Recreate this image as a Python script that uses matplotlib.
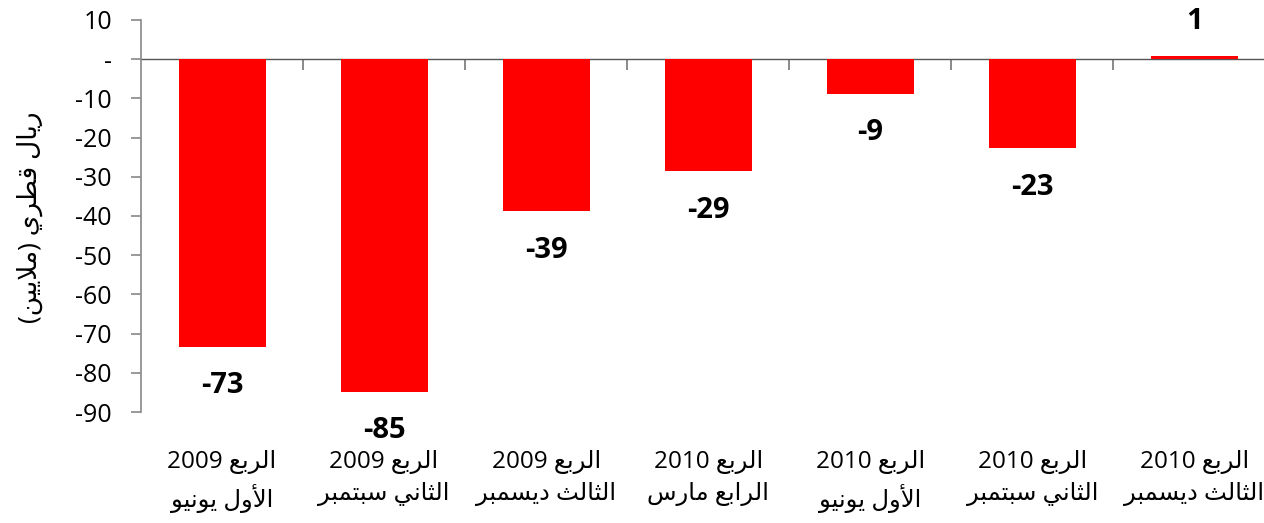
import matplotlib
matplotlib.use('Agg')
import matplotlib.pyplot as plt

# القيم (مليون ريال قطري)
quarters = [
    ['الربع 2009', 'الأول يونيو'],
    ['الربع 2009', 'الثاني سبتمبر'],
    ['الربع 2009', 'الثالث ديسمبر'],
    ['الربع 2010', 'الرابع مارس'],
    ['الربع 2010', 'الأول يونيو'],
    ['الربع 2010', 'الثاني سبتمبر'],
    ['الربع 2010', 'الثالث ديسمبر'],
]
values = [-73.4, -84.8, -38.8, -28.6, -8.9, -22.7, 0.8]
value_labels = ['-73', '-85', '-39', '-29', '-9', '-23', '1']
y_ticks = [10, 0, -10, -20, -30, -40, -50, -60, -70, -80, -90]
y_ticklabels = ['10', '-', '-10', '-20', '-30', '-40', '-50', '-60', '-70', '-80', '-90']
y_title = 'ريال قطري (ملايين)'

# matplotlib لا يقوم بتشكيل النص العربي، لذلك نحوله يدويا الى الاشكال المتصلة
DUAL = {'ب': 0xFE8F, 'ت': 0xFE95, 'ث': 0xFE99, 'س': 0xFEB1, 'ط': 0xFEC1,
        'ع': 0xFEC9, 'ق': 0xFED5, 'ل': 0xFEDD, 'م': 0xFEE1, 'ن': 0xFEE5,
        'ي': 0xFEF1}
RIGHT = {'ا': 0xFE8D, 'أ': 0xFE83, 'د': 0xFEA9, 'ر': 0xFEAD, 'و': 0xFEED,
         '\ufefb': 0xFEFB, '\ufef7': 0xFEF7}


def shape_word(w):
    w = w.replace('لأ', '\ufef7').replace('لا', '\ufefb')
    if not any(c in DUAL or c in RIGHT for c in w):
        return w
    out = []
    for i, c in enumerate(w):
        if c not in DUAL and c not in RIGHT:
            out.append(c)
            continue
        prev = w[i - 1] if i > 0 else ''
        nxt = w[i + 1] if i + 1 < len(w) else ''
        jp = prev in DUAL
        jn = c in DUAL and (nxt in DUAL or nxt in RIGHT)
        base = DUAL.get(c, RIGHT.get(c))
        if jp and jn:
            out.append(chr(base + 3))
        elif jn:
            out.append(chr(base + 2))
        elif jp:
            out.append(chr(base + 1))
        else:
            out.append(chr(base))
    s = ''.join(reversed(out))
    return s.translate(str.maketrans('()', ')('))


def rtl(line):
    return ' '.join(shape_word(w) for w in reversed(line.split(' ')))


plt.rcParams['font.family'] = ['Open Sans', 'DejaVu Sans']

fig = plt.figure(figsize=(12.64, 5.23), dpi=100)
ax = fig.add_axes([0.1116, 0.2122, 0.8884, 0.7496])

x = list(range(len(values)))
ax.bar(x, values, width=0.537, color='#FF0000', zorder=2)

for xi, v, lab in zip(x, values, value_labels):
    off = 25 if v > 0 else -28
    ax.annotate(lab, (xi, v), xytext=(0, off), textcoords='offset points',
                ha='center', va='center', fontsize=21, fontweight='bold')

ax.set_xlim(-0.5, 6.43)
ax.set_ylim(-90, 10)
ax.set_yticks(y_ticks)
ax.set_yticklabels(y_ticklabels, fontsize=18)
ax.tick_params(axis='y', colors='#888888', labelcolor='black', length=7, width=1.2, pad=14)

ax.set_xticks(x)
ax.set_xticklabels(['\n'.join(rtl(l) for l in q) for q in quarters],
                   fontsize=17.5, linespacing=1.45)
ax.tick_params(axis='x', length=0, pad=27)

for s in ['top', 'right', 'bottom']:
    ax.spines[s].set_visible(False)
ax.spines['left'].set_color('#888888')
ax.spines['left'].set_linewidth(1.2)

# خط الصفر مع علامات الفصل بين الفئات
zax = ax.secondary_xaxis(0.9)
zax.set_alignment('bottom')
zax.set_xticks([i + 0.5 for i in x[:-1]])
zax.set_xticklabels([])
zax.tick_params(axis='x', direction='out', length=8, width=1.2, colors='#777777')
zax.spines['bottom'].set_color('#555555')
zax.spines['bottom'].set_linewidth(1.0)

fig.text(0.024, 0.585, rtl(y_title), rotation=90, ha='center', va='center', fontsize=19)

fig.savefig('out.png', dpi=100)
